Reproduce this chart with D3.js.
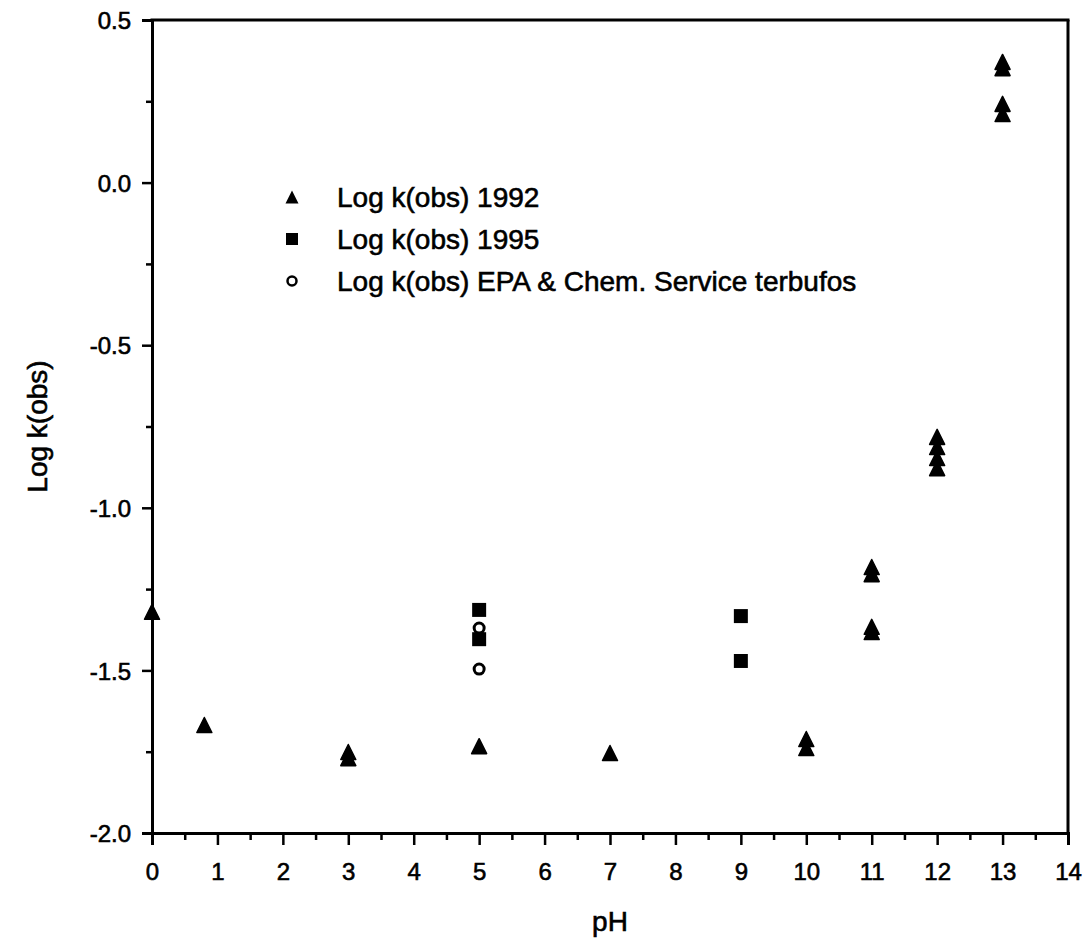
<!DOCTYPE html>
<html>
<head>
<meta charset="utf-8">
<script src="https://cdn.jsdelivr.net/npm/d3@7"></script>
<style>
  body { margin: 0; background: #fff; }
  text { font-family: "Liberation Sans", Arial, sans-serif; fill: #000; stroke: #000; stroke-width: 0.6px; }
</style>
</head>
<body>
<div id="chart"></div>
<script>
// pH / log k(obs) readings
const ph1992 = [0, 0.8, 3, 3, 5, 7, 10, 10, 11, 11, 11, 11, 12, 12, 12, 12, 13, 13, 13, 13];
const log1992 = [-1.32, -1.668, -1.751, -1.77, -1.733, -1.754, -1.711, -1.739,
                 -1.182, -1.204, -1.366, -1.382, -0.782, -0.813, -0.847, -0.878,
                 0.371, 0.352, 0.242, 0.211];
const ph1995 = [5, 5, 9, 9];
const log1995 = [-1.314, -1.404, -1.333, -1.471];
const phEPA = [5, 5];
const logEPA = [-1.37, -1.496];

const xTicks = [0, 1, 2, 3, 4, 5, 6, 7, 8, 9, 10, 11, 12, 13, 14];
const yTicks = [0.5, 0.0, -0.5, -1.0, -1.5, -2.0];
const yTickLabels = ["0.5", "0.0", "-0.5", "-1.0", "-1.5", "-2.0"];
const legendLabels = ["Log k(obs) 1992", "Log k(obs) 1995", "Log k(obs) EPA & Chem. Service terbufos"];

const W = 1085, H = 948;
const margin = { top: 20, right: 17, bottom: 115, left: 152 };
const width = W - margin.left - margin.right,
      height = H - margin.top - margin.bottom;

const svg = d3.select("#chart").append("svg")
    .attr("width", W)
    .attr("height", H);

const g = svg.append("g")
    .attr("transform", `translate(${margin.left},${margin.top})`);

const x = d3.scaleLinear().domain([0, 14]).range([0, width]);
const y = d3.scaleLinear().domain([-2, 0.5]).range([height, 0]);

// minor ticks
g.append("g")
    .attr("transform", `translate(0,${height})`)
    .call(d3.axisBottom(x).tickValues(d3.range(0.5, 14, 1)).tickSize(7).tickFormat(""))
    .call(a => a.select(".domain").remove())
    .selectAll("line").attr("stroke-width", 2.5);

g.append("g")
    .call(d3.axisLeft(y).tickValues(d3.range(-1.75, 0.5, 0.5)).tickSize(6).tickFormat(""))
    .call(a => a.select(".domain").remove())
    .selectAll("line").attr("stroke-width", 2.5);

// major axes
const xAxis = g.append("g")
    .attr("transform", `translate(0,${height})`)
    .call(d3.axisBottom(x).tickValues(xTicks).tickSize(12).tickPadding(18).tickFormat(d3.format("d")));

const yAxis = g.append("g")
    .call(d3.axisLeft(y).tickValues(yTicks).tickSize(10).tickPadding(11)
      .tickFormat((d, i) => yTickLabels[i]));

[xAxis, yAxis].forEach(a => {
  a.select(".domain").attr("stroke-width", 3);
  a.selectAll(".tick line").attr("stroke-width", 2.5);
  a.selectAll(".tick text").attr("font-size", 24).attr("font-family", "Liberation Sans, Arial, sans-serif");
});
yAxis.selectAll(".tick text").attr("dy", "0.36em");

// frame top / right
g.append("line").attr("x1", -1.5).attr("x2", width + 1.5).attr("y1", 0).attr("y2", 0)
    .attr("stroke", "#000").attr("stroke-width", 3);
g.append("line").attr("x1", width).attr("x2", width).attr("y1", 0).attr("y2", height)
    .attr("stroke", "#000").attr("stroke-width", 3);

// axis titles
svg.append("text")
    .attr("x", margin.left + width / 2)
    .attr("y", 931)
    .attr("text-anchor", "middle")
    .attr("font-size", 28)
    .text("pH");

svg.append("text")
    .attr("transform", `translate(47,${margin.top + height / 2}) rotate(-90)`)
    .attr("text-anchor", "middle")
    .attr("font-size", 28)
    .text("Log k(obs)");

// marker shapes
const tri = s => `M0,${-s / 2}L${s / 2},${s / 2}L${-s / 2},${s / 2}Z`;
const sq = s => `M${-s / 2},${-s / 2}h${s}v${s}h${-s}Z`;

g.append("g").selectAll("path")
    .data(ph1992.map((p, i) => [p, log1992[i]]))
    .join("path")
    .attr("d", tri(15))
    .attr("transform", d => `translate(${x(d[0])},${y(d[1])})`)
    .attr("fill", "#000")
    .attr("stroke", "#000").attr("stroke-width", 1.5).attr("stroke-linejoin", "round");

g.append("g").selectAll("path")
    .data(ph1995.map((p, i) => [p, log1995[i]]))
    .join("path")
    .attr("d", sq(14))
    .attr("transform", d => `translate(${x(d[0])},${y(d[1])})`)
    .attr("fill", "#000");

g.append("g").selectAll("circle")
    .data(phEPA.map((p, i) => [p, logEPA[i]]))
    .join("circle")
    .attr("cx", d => x(d[0]))
    .attr("cy", d => y(d[1]))
    .attr("r", 5)
    .attr("fill", "#fff")
    .attr("stroke", "#000")
    .attr("stroke-width", 3);

// legend
const legend = svg.append("g").attr("transform", "translate(292,197)");
const rowH = 42;
legend.append("path").attr("d", tri(13)).attr("fill", "#000");
legend.append("path").attr("d", sq(12)).attr("transform", `translate(0,${rowH})`).attr("fill", "#000");
legend.append("circle").attr("cy", rowH * 2).attr("r", 4.5)
    .attr("fill", "#fff").attr("stroke", "#000").attr("stroke-width", 2.5);
legend.selectAll("text.lbl")
    .data(legendLabels)
    .join("text")
    .attr("class", "lbl")
    .attr("x", 45)
    .attr("y", (d, i) => i * rowH)
    .attr("dy", "0.36em")
    .attr("font-size", 28)
    .text(d => d);
</script>
</body>
</html>
